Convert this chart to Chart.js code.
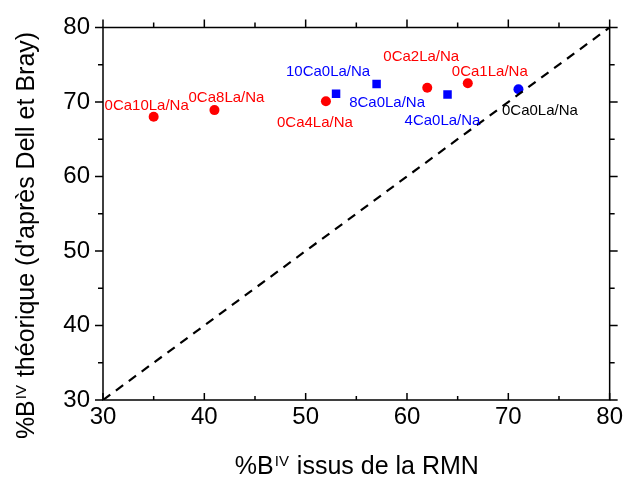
<!DOCTYPE html>
<html>
<head>
<meta charset="utf-8">
<script src="https://cdn.jsdelivr.net/npm/chart.js@4/dist/chart.umd.min.js"></script>
<style>
  html, body { margin: 0; padding: 0; background: #fff; }
  #wrap { width: 626px; height: 482px; position: relative; }
</style>
</head>
<body>
<div id="wrap"><canvas id="c" width="626" height="482"></canvas></div>
<script>
// ---- data ----
const redLabels = ['0Ca10La/Na', '0Ca8La/Na', '0Ca4La/Na', '0Ca2La/Na', '0Ca1La/Na'];
const redX = [35, 41, 52, 62, 66];
const redY = [68.0, 68.9, 70.1, 71.9, 72.5];

const blueSqLabels = ['10Ca0La/Na', '8Ca0La/Na', '4Ca0La/Na'];
const blueSqX = [53, 57, 64];
const blueSqY = [71.1, 72.4, 71.0];

const blackLabels = ['0Ca0La/Na'];
const blueCircX = [71];
const blueCircY = [71.7];

const diagX = [30, 80];
const diagY = [30, 80];

const tickValues = [30, 40, 50, 60, 70, 80];

// ---- label placement (pixel offsets, style only) ----
const redOffsets = [[-7, -11], [12, -12], [-11, 22], [-6, -31], [22, -11.5]];
const blueSqOffsets = [[-8, -21.5], [10.5, 19], [-5, 26.5]];
const blackOffsets = [[21.5, 21.5]];

const FONT = '"Liberation Sans", Arial, Helvetica, sans-serif';
const RED = '#ff0000', BLUE = '#0000ff';

function pts(xs, ys) { return xs.map((x, i) => ({ x: x, y: ys[i] })); }

const framePlugin = {
  id: 'frame',
  afterDraw(chart) {
    const ctx = chart.ctx, a = chart.chartArea;
    const xs = chart.scales.x, ys = chart.scales.y;
    ctx.save();
    ctx.strokeStyle = '#000';
    ctx.lineWidth = 1.5;
    ctx.beginPath();
    ctx.rect(a.left, a.top, a.right - a.left, a.bottom - a.top);
    ctx.stroke();
    ctx.beginPath();
    for (let v = 30; v <= 80; v += 5) {
      const major = v % 10 === 0;
      const px = xs.getPixelForValue(v);
      const py = ys.getPixelForValue(v);
      const lb = major ? 7 : 4;
      ctx.moveTo(px, a.bottom); ctx.lineTo(px, a.bottom - lb);
      const lo = major ? 8 : 5;
      ctx.moveTo(px, a.top); ctx.lineTo(px, a.top - lo);
      ctx.moveTo(a.left, py); ctx.lineTo(a.left - lo, py);
      ctx.moveTo(a.right, py); ctx.lineTo(a.right + lo, py);
    }
    ctx.stroke();
    ctx.restore();
  }
};

const labelPlugin = {
  id: 'ptlabels',
  afterDatasetsDraw(chart) {
    const ctx = chart.ctx;
    ctx.save();
    ctx.font = '15px ' + FONT;
    ctx.textAlign = 'center';
    ctx.textBaseline = 'middle';
    chart.data.datasets.forEach((ds, di) => {
      if (!ds.ptLabels) return;
      const meta = chart.getDatasetMeta(di);
      meta.data.forEach((el, i) => {
        const off = ds.ptOffsets[i];
        ctx.fillStyle = ds.labelColor;
        ctx.fillText(ds.ptLabels[i], el.x + off[0], el.y + off[1]);
      });
    });
    ctx.restore();
  }
};

function drawSupTitle(ctx, pre, sup, post, cx, baseline) {
  const main = '25px ' + FONT, small = '15px ' + FONT;
  ctx.font = main; const w1 = ctx.measureText(pre).width; const w3 = ctx.measureText(post).width;
  ctx.font = small; const w2 = ctx.measureText(sup).width + 1;
  const total = w1 + w2 + w3;
  let x = cx - total / 2;
  ctx.textAlign = 'left';
  ctx.textBaseline = 'alphabetic';
  ctx.fillStyle = '#000';
  ctx.font = main; ctx.fillText(pre, x, baseline); x += w1 + 1;
  ctx.font = small; ctx.fillText(sup, x, baseline - 8); x += w2;
  ctx.font = main; ctx.fillText(post, x, baseline);
}

const titlePlugin = {
  id: 'titles',
  afterDraw(chart) {
    const ctx = chart.ctx, a = chart.chartArea;
    ctx.save();
    drawSupTitle(ctx, '%B', 'IV', ' issus de la RMN', (a.left + a.right) / 2, 474);
    ctx.translate(34, 236);
    ctx.rotate(-Math.PI / 2);
    drawSupTitle(ctx, '%B', 'IV', " théorique (d'après Dell et Bray)", 0, 0);
    ctx.restore();
  }
};

new Chart(document.getElementById('c'), {
  type: 'scatter',
  data: {
    datasets: [
      {
        data: pts(diagX, diagY),
        showLine: true,
        borderColor: '#000',
        borderWidth: 2.2,
        borderDash: [9, 7],
        pointRadius: 0,
        fill: false,
        order: 0
      },
      {
        data: pts(redX, redY),
        pointStyle: 'circle',
        pointRadius: 5,
        backgroundColor: RED,
        borderColor: RED,
        borderWidth: 0,
        ptLabels: redLabels, ptOffsets: redOffsets, labelColor: RED,
        order: 1
      },
      {
        data: pts(blueSqX, blueSqY),
        pointStyle: 'rect',
        pointRadius: 6,
        backgroundColor: BLUE,
        borderColor: BLUE,
        borderWidth: 0,
        ptLabels: blueSqLabels, ptOffsets: blueSqOffsets, labelColor: BLUE,
        order: 1
      },
      {
        data: pts(blueCircX, blueCircY),
        pointStyle: 'circle',
        pointRadius: 5,
        backgroundColor: BLUE,
        borderColor: BLUE,
        borderWidth: 0,
        ptLabels: blackLabels, ptOffsets: blackOffsets, labelColor: '#000',
        order: 1
      }
    ]
  },
  options: {
    responsive: false,
    animation: false,
    events: [],
    layout: { padding: { top: 25, right: 16, left: 0, bottom: 0 } },
    plugins: { legend: { display: false }, tooltip: { enabled: false } },
    scales: {
      x: {
        type: 'linear', min: 30, max: 80,
        afterFit(s) { s.height = 82; },
        afterBuildTicks(s) { s.ticks = tickValues.map(v => ({ value: v })); },
        grid: { display: false, drawTicks: false },
        border: { display: false },
        ticks: { color: '#000', font: { family: FONT, size: 24 }, padding: 3, maxRotation: 0 }
      },
      y: {
        type: 'linear', min: 30, max: 80,
        afterFit(s) { s.width = 103; },
        afterBuildTicks(s) { s.ticks = tickValues.map(v => ({ value: v })); },
        grid: { display: false, drawTicks: false },
        border: { display: false },
        ticks: { color: '#000', font: { family: FONT, size: 24 }, padding: 13 }
      }
    }
  },
  plugins: [framePlugin, labelPlugin, titlePlugin]
});
</script>
</body>
</html>
